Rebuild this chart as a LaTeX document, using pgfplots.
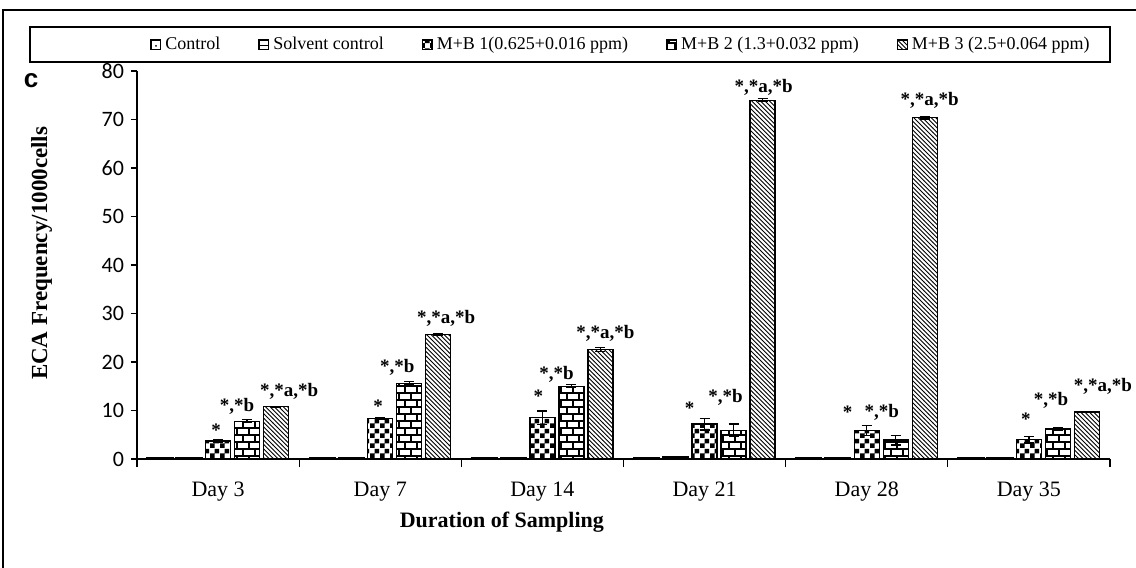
\documentclass[border=0pt]{standalone}
\usepackage{fontspec}
\setmainfont{Liberation Serif}
\newfontfamily\tickfont{Carlito}
\newfontfamily\panelfont{Liberation Sans}
\usepackage{pgfplots}
\pgfplotsset{compat=1.18}
\usepackage{pgfplotstable}
\usetikzlibrary{patterns}

% finer patterns than the stock ones
\pgfdeclarepatternformonly{chk}{\pgfpointorigin}{\pgfqpoint{5pt}{5pt}}{\pgfqpoint{5pt}{5pt}}{%
  \pgfpathrectangle{\pgfpointorigin}{\pgfqpoint{2.5pt}{2.5pt}}%
  \pgfpathrectangle{\pgfqpoint{2.5pt}{2.5pt}}{\pgfqpoint{2.5pt}{2.5pt}}%
  \pgfusepath{fill}}
\pgfdeclarepatternformonly{brk}{\pgfqpoint{-0.5pt}{-0.5pt}}{\pgfqpoint{6.5pt}{7.5pt}}{\pgfqpoint{6pt}{7pt}}{%
  \pgfsetlinewidth{0.55pt}%
  \pgfpathmoveto{\pgfqpoint{-0.1pt}{0pt}}\pgfpathlineto{\pgfqpoint{6.1pt}{0pt}}%
  \pgfpathmoveto{\pgfqpoint{-0.1pt}{3.5pt}}\pgfpathlineto{\pgfqpoint{6.1pt}{3.5pt}}%
  \pgfpathmoveto{\pgfqpoint{1.5pt}{0pt}}\pgfpathlineto{\pgfqpoint{1.5pt}{3.5pt}}%
  \pgfpathmoveto{\pgfqpoint{4.5pt}{3.5pt}}\pgfpathlineto{\pgfqpoint{4.5pt}{7pt}}%
  \pgfusepath{stroke}}
\pgfdeclarepatternformonly{nwl}{\pgfqpoint{-1pt}{-1pt}}{\pgfqpoint{3.2pt}{3.2pt}}{\pgfqpoint{2.2pt}{2.2pt}}{%
  \pgfsetlinewidth{0.45pt}%
  \pgfpathmoveto{\pgfqpoint{0pt}{2.2pt}}\pgfpathlineto{\pgfqpoint{2.3pt}{-0.1pt}}%
  \pgfusepath{stroke}}

% x: 0=Day 3 ... 5=Day 35; c=control, s=solvent control, m1..m3 = M+B doses, e = error
% aNx/aNy: where the significance mark of series N sits (px right of bar centre, px above bar top)
\pgfplotstableread{
x  c    s    m1   m1e  m2    m2e  m3    m3e  a1x a1y a2x a2y a3x a3y
0  0.2  0.2  3.7  0.2  7.8   0.3  10.8  0.1  -2  11  -10 15  13  15
1  0.2  0.2  8.3  0.2  15.6  0.3  25.7  0.2  -2  13  -12 16  8   16
2  0.2  0.2  8.5  1.4  15.0  0.3  22.6  0.4  -4  22  -15 12  5   16
3  0.2  0.4  7.2  1.2  5.9   1.3  74.0  0.3  -15 16  -8  33  1   13
4  0.2  0.2  5.9  1.0  3.9   1.0  70.4  0.3  -19 18  -14 28  5   17
5  0.2  0.2  4.0  0.7  6.2   0.3  9.7   0.1  -3  20  -7  29  16  26
}\ecadata

\begin{document}
\begin{tikzpicture}
\useasboundingbox (-68.5pt,-54.5pt) rectangle (499.5pt,229.5pt);
% outer frame and legend box
\draw[line width=0.6pt] (-67pt,-60pt) -- (-67pt,224.5pt) -- (505pt,224.5pt);
\draw[line width=0.9pt] (-53.5pt,198.5pt) rectangle (486.5pt,216pt);
\node[font=\panelfont\bfseries\fontsize{13}{13}\selectfont] at (-53pt,189pt) {c};
\begin{axis}[
    at={(0pt,0pt)}, anchor=south west,
    scale only axis,
    width=486.5pt, height=194pt,
    ybar, bar width=12.5pt,
    xmin=-0.5, xmax=5.5,
    ymin=0, ymax=80,
    axis lines*=left,
    axis line style={line width=0.7pt},
    tick align=outside,
    xtick={0,...,5},
    xticklabels={Day 3, Day 7, Day 14, Day 21, Day 28, Day 35},
    major x tick style={draw=none},
    minor xtick={-0.5,0.5,...,5.5},
    minor tick length=4pt,
    minor x tick style={black, line width=0.6pt},
    ytick={0,10,...,80},
    major tick length=3pt,
    y tick style={black, line width=0.6pt},
    x tick label style={font=\fontsize{11}{11}\selectfont, yshift=-5pt},
    y tick label style={font=\tickfont\fontsize{11}{11}\selectfont},
    /pgf/number format/assume math mode=true,
    xlabel={\textbf{Duration of Sampling}},
    xlabel style={font=\fontsize{11}{11}\selectfont, at={(axis description cs:0.375,-0.162)}, anchor=center},
    ylabel={\textbf{ECA Frequency/1000cells}},
    ylabel style={font=\fontsize{11.5}{11.5}\selectfont, at={(axis description cs:-0.098,0.53)}, anchor=center},
    legend columns=5,
    legend style={draw=none, fill=none, at={(axis description cs:0.4985,1.068)}, anchor=center,
        font=\fontsize{9}{9}\selectfont, inner sep=0pt,
        /tikz/every even column/.append style={column sep=17pt}},
    legend image code/.code={\draw[#1, line width=0.7pt] (0pt,-2.4pt) rectangle (4.8pt,2.4pt);},
    error bars/y dir=both,
    error bars/y explicit,
    error bars/error bar style={black, line width=0.6pt},
    error bars/error mark options={rotate=90, mark size=2.5pt, line width=0.6pt},
    every node near coord/.append style={font=\fontsize{9.5}{9.5}\selectfont\bfseries, anchor=center,
        xshift={\ax*0.5pt}, yshift={\ay*0.5pt}},
]
\addplot[draw=black, line width=1.2pt, pattern=dots] table[x=x, y=c] {\ecadata};
\addplot[draw=black, line width=1.2pt, pattern=horizontal lines] table[x=x, y=s] {\ecadata};
\addplot[draw=black, line width=0.6pt, pattern=chk,
    visualization depends on={\thisrow{a1x} \as \ax},
    visualization depends on={\thisrow{a1y} \as \ay},
    nodes near coords={*}]
    table[x=x, y=m1, y error=m1e] {\ecadata};
\addplot[draw=black, line width=0.6pt, pattern=brk,
    visualization depends on={\thisrow{a2x} \as \ax},
    visualization depends on={\thisrow{a2y} \as \ay},
    nodes near coords={*,*b}]
    table[x=x, y=m2, y error=m2e] {\ecadata};
\addplot[draw=black, line width=0.6pt, pattern=nwl,
    visualization depends on={\thisrow{a3x} \as \ax},
    visualization depends on={\thisrow{a3y} \as \ay},
    nodes near coords={*,*a,*b}]
    table[x=x, y=m3, y error=m3e] {\ecadata};
\legend{Control, Solvent control, M+B 1(0.625+0.016 ppm), M+B 2 (1.3+0.032 ppm), M+B 3 (2.5+0.064 ppm)}
\end{axis}
\end{tikzpicture}
\end{document}
